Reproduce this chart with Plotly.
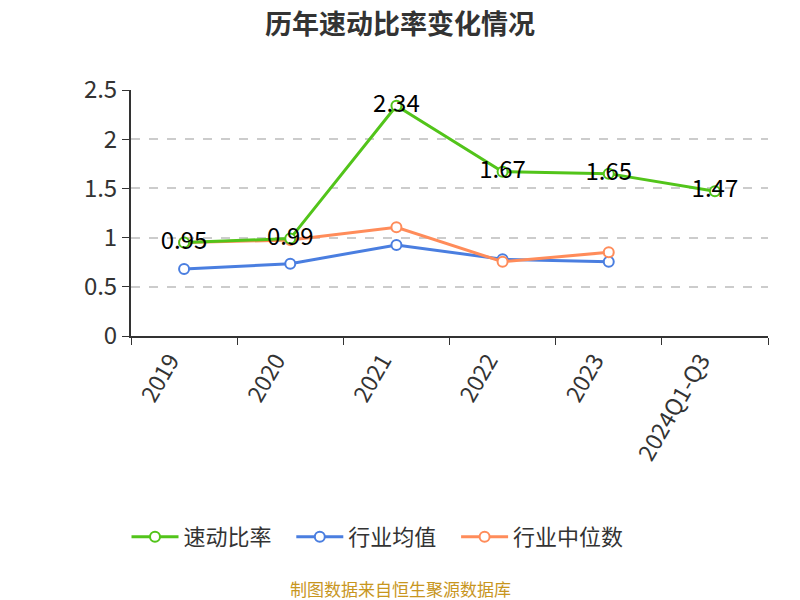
import plotly.graph_objects as go

categories = ["2019", "2020", "2021", "2022", "2023", "2024Q1-Q3"]
quick_ratio = [0.95, 0.99, 2.34, 1.67, 1.65, 1.47]
industry_mean = [0.68, 0.735, 0.925, 0.78, 0.755]
industry_median = [0.95, 0.975, 1.105, 0.755, 0.85]

FONT = "Noto Sans CJK SC"
PAD = "\u00a0" * 3
fig = go.Figure()

def add(name, y, color, rank, labels=False):
    fig.add_trace(go.Scatter(
        x=categories[:len(y)], y=y, name=name + PAD, legendrank=rank,
        mode="lines+markers+text" if labels else "lines+markers",
        line=dict(color=color, width=3),
        marker=dict(symbol="circle", size=10, color="white", line=dict(color=color, width=2)),
        text=[f"{v:.2f}" for v in y] if labels else None,
        textposition="middle center",
        textfont=dict(size=24, color="#000", family=FONT),
        cliponaxis=False,
    ))

add("行业均值", industry_mean, "#4a7ee0", 2)
add("行业中位数", industry_median, "#ff8c5a", 3)
add("速动比率", quick_ratio, "#52c41a", 1, labels=True)

# page has an 8px body margin; figure coordinates are offset accordingly
L, T, B, R = 123, 82, 272, 40
plot_h = 600 - T - B
plot_w = 800 - L - R

def py(fig_y):
    return ((600 - B) - fig_y) / plot_h

def px(fig_x):
    return (fig_x - L) / plot_w

fig.update_layout(
    width=800, height=600,
    paper_bgcolor="white", plot_bgcolor="white",
    margin=dict(l=L, r=R, t=T, b=B, autoexpand=False),
    font=dict(family=FONT, color="#333"),
    legend=dict(orientation="h", xref="container", x=377 / 800, xanchor="center",
                yref="container", y=1 - 529 / 600, yanchor="middle",
                font=dict(size=22, color="#333", family=FONT), traceorder="normal",
                itemwidth=47),
    showlegend=True,
    annotations=[
        dict(text="<b>历年速动比率变化情况</b>", x=px(392), xref="paper", xanchor="center",
             y=py(15), yref="paper", yanchor="middle", showarrow=False,
             font=dict(size=27, color="#333", family=FONT)),
        dict(text="制图数据来自恒生聚源数据库", x=px(392), xref="paper", xanchor="center",
             y=py(580), yref="paper", yanchor="middle", showarrow=False,
             font=dict(size=17, color="#c8961e", family=FONT)),
    ],
)
fig.update_xaxes(
    type="category", categoryorder="array", categoryarray=categories,
    range=[-0.5, 5.5], tickson="boundaries", ticks="outside", ticklen=7, tickcolor="#333",
    showline=True, linecolor="#333", linewidth=2, showgrid=False, automargin=False,
    tickangle=-60, tickfont=dict(size=23, color="#333", family=FONT), ticklabelshift=-14,
)
fig.update_yaxes(
    range=[0, 2.5], dtick=0.5, ticks="outside", ticklen=7, tickcolor="#333",
    showline=True, linecolor="#333", linewidth=2, automargin=False,
    showgrid=True, gridcolor="#cccccc", griddash="dash", gridwidth=1.5,
    zeroline=False, tickfont=dict(size=24, color="#333", family=FONT),
    tickformat="~g",
)

fig.write_html("out.html")
